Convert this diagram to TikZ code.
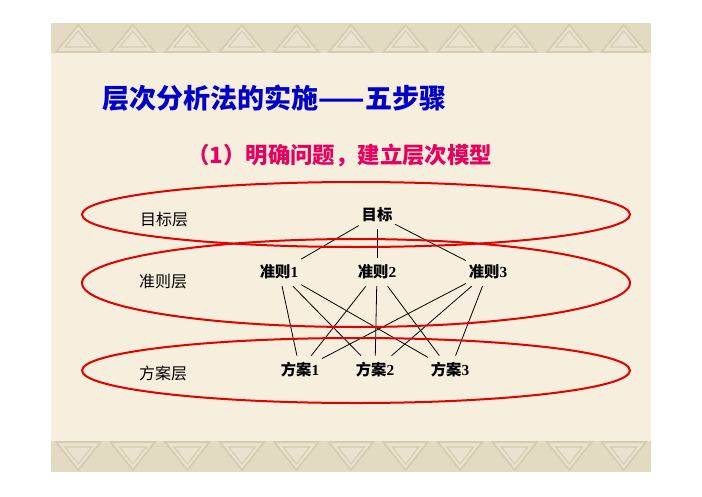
\documentclass[tikz,border=0pt]{standalone}
\usepackage{fontspec}
\setmainfont{Liberation Serif}
\newfontfamily\cjk{Noto Sans CJK SC}
\usepackage{xcolor}
\definecolor{slidebg}{RGB}{246,239,222}
\definecolor{bandtan}{RGB}{214,203,176}
\definecolor{bandlight}{RGB}{234,226,205}
\definecolor{ringred}{RGB}{228,0,0}
\definecolor{titleblue}{RGB}{0,0,200}
\definecolor{steppink}{RGB}{232,0,95}
\usetikzlibrary{positioning}

\begin{document}
\begin{tikzpicture}[x=0.75pt,y=-0.75pt,
      ring style/.style={draw=ringred,line width=1.5pt},
      tag style/.style={font=\cjk\fontsize{12}{14}\selectfont,inner sep=1pt},
      elem style/.style={font=\fontsize{11.5}{13}\selectfont\bfseries,inner xsep=2pt,inner ysep=5pt},
      link/.style={line width=0.6pt},
      band style/.style={fill=bandlight,draw=bandtan,line width=1.2pt}
      ]
      \useasboundingbox (0,0) rectangle (702,496);

      % slide and its borders
      \fill[slidebg] (51,23) rectangle (651,472);
      \fill[bandtan!60!slidebg] (51,23) rectangle (651,53);
      \fill[bandtan!60!slidebg] (51,441) rectangle (651,472);
      \foreach \i in {0,...,10} {
        \pgfmathsetmacro\xa{51+54.545*\i}
        \draw[band style] (\xa+5,52) -- (\xa+27.3,25) -- (\xa+49.5,52) -- cycle;
        \draw[bandtan,line width=0.8pt] (\xa+14,47) -- (\xa+27.3,31) -- (\xa+40.5,47) -- cycle;
        \draw[band style] (\xa+5,442) -- (\xa+27.3,470) -- (\xa+49.5,442) -- cycle;
        \draw[bandtan,line width=0.8pt] (\xa+14,447) -- (\xa+27.3,464) -- (\xa+40.5,447) -- cycle;
      }

      % titles
      \node[anchor=west,text=titleblue,font=\cjk\bfseries\fontsize{20.3}{23}\selectfont,inner sep=0pt]
        (title) at (102,98) {层次分析法的实施——五步骤};
      \node[anchor=west,text=steppink,font=\cjk\bfseries\fontsize{16.8}{20}\selectfont,inner sep=0pt]
        (step) at (187,155) {（1）明确问题，建立层次模型};

      % layer names
      \node[tag style] (goaltag) at (164,219) {目标层};
      \node[tag style] (crittag) at (163,282) {准则层};
      \node[tag style] (plantag) at (163,373) {方案层};

      % hierarchy
      \node[elem style] (goal) at (377,215) {{\cjk 目标}};
      \node[elem style] (c1) at (279,272) {{\cjk 准则}1};
      \node[elem style] (c2) at (377,272) {{\cjk 准则}2};
      \node[elem style] (c3) at (488,272) {{\cjk 准则}3};
      \node[elem style] (p1) at (300,370) {{\cjk 方案}1};
      \node[elem style] (p2) at (375,370) {{\cjk 方案}2};
      \node[elem style] (p3) at (450,370) {{\cjk 方案}3};

      \draw[link] (goal) edge (c1) edge (c2) edge (c3);
      \foreach \c in {c1,c2,c3}
        \foreach \p in {p1,p2,p3}
          \draw[link] (\c) -- (\p);

      % layer rings
      \draw[ring style] (356,214.5) ellipse [x radius=274, y radius=32.5];
      \draw[ring style] (356,283) ellipse [x radius=274, y radius=44];
      \draw[ring style] (356,370.5) ellipse [x radius=274, y radius=32.5];
    \end{tikzpicture}
\end{document}
